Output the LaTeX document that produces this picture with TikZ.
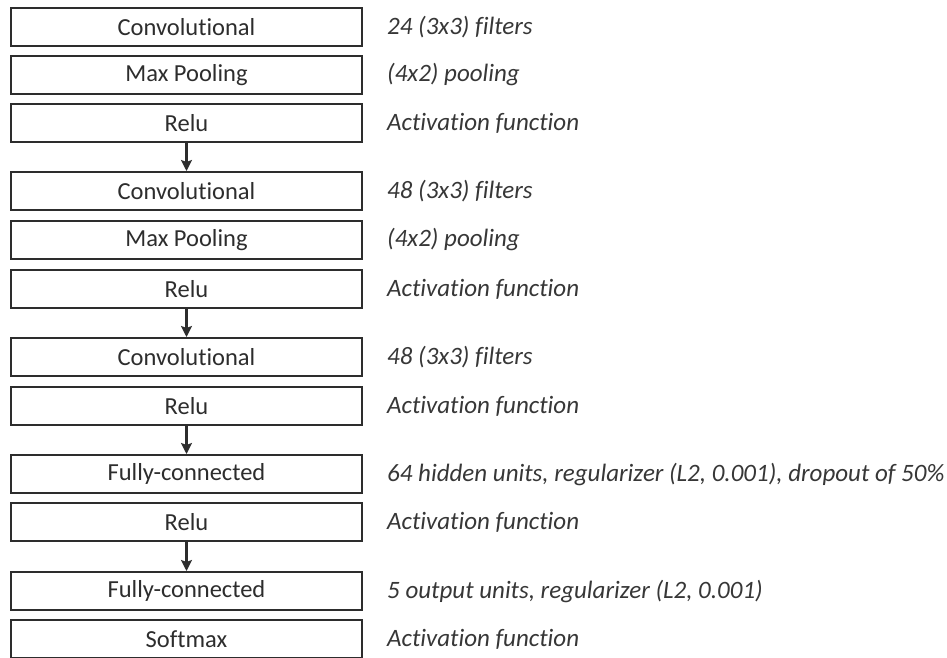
\documentclass[tikz,border=0pt]{standalone}
\usepackage{fontspec}
\setmainfont{Carlito}[Ligatures={NoCommon}]
\usetikzlibrary{arrows.meta}
\definecolor{boxgray}{RGB}{45,45,45}
\definecolor{notegray}{RGB}{55,55,55}

\begin{document}
\begin{tikzpicture}[x=1pt,y=-1pt,
    layer/.style={draw=boxgray,line width=2pt,fill=white,minimum width=351pt,minimum height=38pt,inner sep=0pt,text=boxgray,font=\fontsize{24.5}{28}\selectfont},
    note/.style={anchor=west,inner sep=0pt,text=notegray,font=\fontsize{25}{28}\selectfont\itshape},
    flow/.style={draw=boxgray,line width=2.2pt,-{Stealth[length=11pt,width=11pt,inset=2pt]}}]
                \fill[white] (0,0) rectangle (947,657);
                \useasboundingbox (0,0) rectangle (947,657);
                \foreach[count=\i] \y/\lab/\txt in {27/Convolutional/{24 (3x3) filters},
                    75/Max Pooling/{(4x2) pooling},
                    123/Relu/{Activation function},
                    191/Convolutional/{48 (3x3) filters},
                    240/Max Pooling/{(4x2) pooling},
                    289/Relu/{Activation function},
                    357/Convolutional/{48 (3x3) filters},
                    406/Relu/{Activation function},
                    474/Fully-connected/{64 hidden units, regularizer (L2, 0.001), dropout of 50\%},
                    522/Relu/{Activation function},
                    591/Fully-connected/{5 output units, regularizer (L2, 0.001)},
                    639/Softmax/{Activation function}} {
                    \node[layer] (b\i) at (186.5,\y) {\lab};
                    \node[note] (d\i) at (387,\y) {\txt};
                }

                \draw[flow] (b3) -- (b4);
                \draw[flow] (b6) -- (b7);
                \draw[flow] (b8) -- (b9);
                \draw[flow] (b10) -- (b11);
\end{tikzpicture}
\end{document}
